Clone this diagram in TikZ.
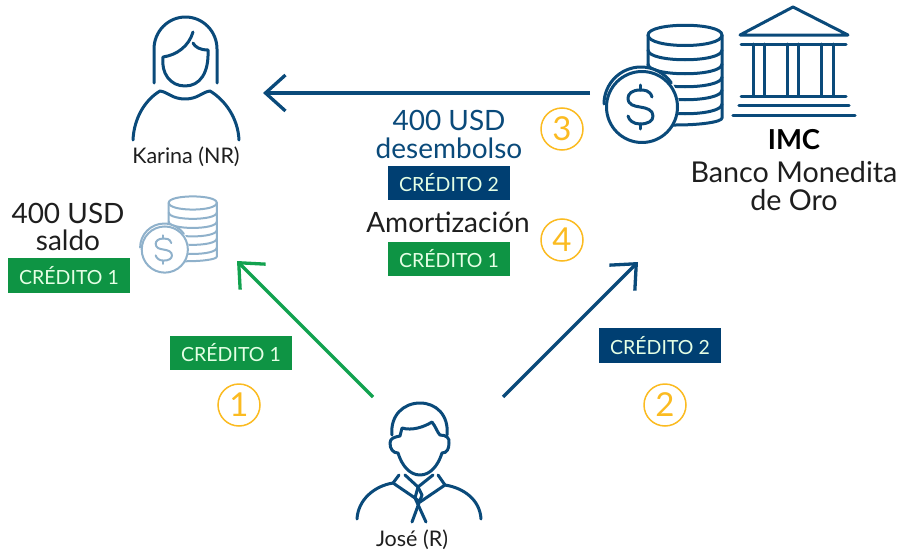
\documentclass[tikz,border=0pt]{standalone}
\usepackage{fontspec}
\setmainfont{Lato}
\usetikzlibrary{arrows.meta}
\definecolor{navy}{HTML}{0A4A7A}
\definecolor{badgenavy}{HTML}{003F72}
\definecolor{badgegreen}{HTML}{0E9444}
\definecolor{arrowgreen}{HTML}{12A24F}
\definecolor{gold}{HTML}{FBBB21}
\definecolor{paleblue}{HTML}{8FB1CB}
\definecolor{ink}{HTML}{1E1E1E}
\tikzset{
  x=1pt,y=-1pt,
  icon/.style={draw=navy,line width=3pt,line cap=round,line join=round,fill=none},
  flow/.style={line width=3.3pt,-{Straight Barb[length=20pt,width=36pt,line width=3.3pt]}},
  badge/.style={minimum width=122pt,minimum height=34.5pt,inner sep=0pt,text=white!90!green,font=\fontsize{19.5}{21}\selectfont},
  num/.style={circle,draw=gold,line width=1.5pt,minimum size=42pt,inner sep=0pt,text=gold,font=\fontsize{33}{36}\selectfont},
  big/.style={inner sep=0pt,font=\fontsize{28}{32}\selectfont,text=ink},
  small/.style={inner sep=0pt,font=\fontsize{21.5}{24}\selectfont,text=ink},
}
\newcommand{\coinstack}[1]{%
  \begin{scope}[#1]
    \draw[icon,fill=white] (648,35) .. controls (648,22) and (722,22) .. (722,35) -- (722,118)
      .. controls (722,122) and (700,125) .. (676,125) -- (648,125) -- cycle;
    \draw[icon] (648,35) .. controls (648,49) and (722,49) .. (722,35);
    \foreach \yy in {50,64,77,90,104}{
      \draw[icon] (648,\yy) .. controls (648,\yy+13) and (722,\yy+13) .. (722,\yy);
    }
    \fill[white] (640,105) circle[radius=39];
    \draw[icon] (604,104) arc[start angle=180,end angle=325,radius=37];
    \draw[icon,fill=white] (642,107) circle[radius=35.5];
    \draw[icon] (652,97) .. controls (650,90) and (644,90) .. (640,90)
      .. controls (632,90) and (628,94) .. (628,98)
      .. controls (628,105) and (634,106) .. (640,107)
      .. controls (647,108) and (653,110) .. (653,116)
      .. controls (653,121) and (648,124) .. (640,124)
      .. controls (633,124) and (629,120) .. (628,116);
    \draw[icon] (640,85) -- (640,90) (640,124) -- (640,129);
  \end{scope}}

\begin{document}
\begin{tikzpicture}
\useasboundingbox (0,0) rectangle (900,554);

% Karina
\draw[icon] (154,83) -- (154,49) arc[start angle=180,end angle=360,x radius=31.5,y radius=32] -- (217,83);
\draw[icon] (193,32) .. controls (189,46) and (177,55) .. (163,57)
  .. controls (161,73) and (170,86) .. (185,86)
  .. controls (200,86) and (209,73) .. (208,50)
  .. controls (200,50) and (195,47) .. (193,43);
\draw[icon] (133,140) .. controls (134,118) and (145,100) .. (160,91)
  .. controls (168,92) and (172,99) .. (185,99)
  .. controls (198,99) and (202,92) .. (210,91)
  .. controls (225,100) and (238,118) .. (239,140);
\node[small] (karina) at (186,157) {Karina (NR)};

% José
\draw[icon] (392,435) .. controls (390,415) and (404,403) .. (420,403)
  .. controls (436,403) and (449,415) .. (447,435);
\draw[icon] (402,428) .. controls (412,431) and (424,427) .. (432,422)
  .. controls (436,427) and (437,432) .. (440,435)
  .. controls (446,435) and (450,438) .. (449,443)
  .. controls (449,449) and (447,453) .. (442,453)
  .. controls (438,466) and (430,475) .. (420,475)
  .. controls (410,475) and (402,466) .. (398,453)
  .. controls (393,453) and (390,449) .. (390,443)
  .. controls (390,438) and (395,437) .. (400,436) -- cycle;
\draw[icon] (399,475) -- (393,483) -- (415,498) -- (420,502) -- (445,485) -- (438,475);
\draw[icon] (405,475) -- (418,487) -- (433,475);
\draw[icon] (418,487) -- (415,498) -- (426,522);
\draw[icon] (418,487) -- (422,495) -- (412,522);
\draw[icon] (357,519) .. controls (358,500) and (374,486) .. (393,483);
\draw[icon] (481,519) .. controls (480,500) and (464,488) .. (445,485);
\node[small] (jose) at (412,540) {José (R)};

% large and small coin stacks
\coinstack{}
\coinstack{shift={(-252.5,180)},scale=0.65,icon/.append style={draw=paleblue,line width=2pt}}

% bank
\draw[icon] (740,35) -- (793,7) -- (848,35) -- cycle;
\draw[icon] (741,44) -- (846,44);
\foreach \cx in {753,764,787,798,821,833}{\draw[icon] (\cx,44) -- (\cx,96);}
\draw[icon] (741,96) -- (846,96);
\draw[icon,line width=3.4pt] (739,105.5) -- (849,105.5);
\draw[icon,line width=3.4pt] (733,115.5) -- (855,115.5);

% bank labels
\node[inner sep=0pt,text=black,font=\fontsize{27.5}{30}\selectfont\bfseries] (imc) at (794,140) {IMC};
\node[big,font=\fontsize{28.7}{32}\selectfont] (banco) at (794,172) {Banco Monedita};
\node[big,font=\fontsize{28.7}{32}\selectfont] (oro) at (794,200) {de Oro};

% centre labels
\node[big,text=navy] (m400) at (449,120) {400 USD};
\node[big,text=navy] (desem) at (449,148) {desembolso};
\node[big] (amort) at (448,222) {Amortización};
\node[big] (s400) at (68,213) {400 USD};
\node[big] (saldo) at (68,240) {saldo};

% badges
\node[badge,fill=badgenavy] (c2a) at (449,183) {CRÉDITO 2};
\node[badge,fill=badgegreen] (c1a) at (449,259) {CRÉDITO 1};
\node[badge,fill=badgegreen] (c1b) at (69,275.5) {CRÉDITO 1};
\node[badge,fill=badgegreen] (c1c) at (231,353) {CRÉDITO 1};
\node[badge,fill=badgenavy] (c2b) at (660,345.5) {CRÉDITO 2};

% numbers
\node[num] (n3) at (562,129) {3};
\node[num] (n4) at (562,240) {4};
\node[num] (n1) at (239,405) {1};
\node[num] (n2) at (665,405) {2};

% arrows
\coordinate (a3s) at (590,93);
\coordinate (a3e) at (263,93);
\coordinate (a1s) at (373,397);
\coordinate (a1e) at (237,261);
\coordinate (a2s) at (503,397);
\coordinate (a2e) at (638,262);
\draw[flow,draw=navy] (a3s) -- (a3e);
\draw[flow,draw=arrowgreen] (a1s) -- (a1e);
\draw[flow,draw=navy] (a2s) -- (a2e);
\end{tikzpicture}
\end{document}
